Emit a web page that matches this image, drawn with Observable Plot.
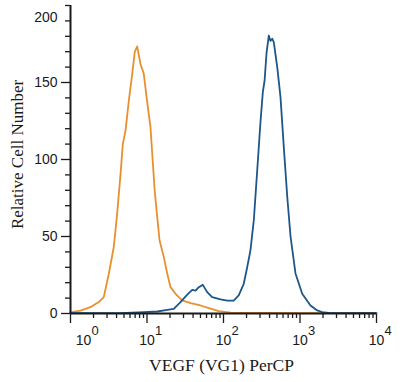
<!DOCTYPE html>
<html><head><meta charset="utf-8">
<script src="https://cdn.jsdelivr.net/npm/d3@7"></script>
<script src="https://cdn.jsdelivr.net/npm/@observablehq/plot@0.6"></script>
<style>body{margin:0;background:#fff}</style>
</head><body><div id="chart"></div>
<script>
// Isotype / control (orange)
const orangeX = [1.0, 1.35, 1.82, 2.34, 2.72, 3.17, 3.68, 4.07, 4.51, 4.83, 5.24, 5.78, 6.41, 6.93, 7.45, 8.22, 9.08, 10.0, 11.1, 11.7, 12.6, 13.6, 14.6, 16.6, 18.4, 20.3, 23.6, 28.8, 37.1, 50.0, 67.6, 86.9, 124, 1000, 10000];
const orangeY = [0.8, 1.9, 4.1, 7.4, 10.6, 25.8, 43.2, 64.7, 90.7, 110, 118.8, 138, 155.6, 170, 173.4, 162, 155.6, 138.3, 121, 104, 80, 62.6, 47.4, 36.6, 25.8, 17.1, 12.8, 8.5, 6.7, 5.2, 3.1, 1.5, 0.6, 0.3, 0.3];
// VEGF stained (blue)
const blueX = [1, 4.5, 9.08, 13.6, 18.4, 22.4, 27.4, 33.6, 39.0, 43.1, 47.5, 53.6, 61.2, 71.1, 91.4, 112, 136, 158, 184, 204, 225, 249, 276, 305, 327, 344, 365, 391, 411, 434, 455, 504, 556, 614, 681, 752, 873, 1069, 1371, 1679, 1950, 2512, 10000];
const blueY = [0.3, 0.3, 0.85, 1.3, 2.4, 3.0, 7.4, 12.2, 15.4, 14.9, 17.1, 18.6, 13.9, 10.6, 9.1, 8.4, 8.4, 11.7, 19.3, 30, 41, 60.6, 93, 125, 144, 151, 169, 180.5, 177, 178.4, 176, 160, 140.5, 108, 76, 50, 26, 12.8, 5.2, 2.0, 0.85, 0.3, 0.3];

const yMajorTicks = [0, 50, 100, 150];
const yTopTick = [200];
const yMinorTicks = [10, 20, 30, 40, 60, 70, 80, 90, 110, 120, 130, 140, 160, 170, 180, 190];
const xTickExponents = [0, 1, 2, 3, 4];
const xMinorMultipliers = [2, 3, 4, 5, 6, 7, 8, 9];
const xAxisTitle = "VEGF (VG1) PerCP";
const yAxisTitle = "Relative Cell Number";

const orange = orangeX.map((x, i) => ({x, y: orangeY[i]}));
const blue = blueX.map((x, i) => ({x, y: blueY[i]}));
const xMajor = xTickExponents.map(e => 10 ** e);
const xMinor = xTickExponents.slice(0, 4).flatMap(e => xMinorMultipliers.map(m => m * 10 ** e));

const ink = "#1a1a1a";
const sans = "Liberation Sans, Arial, sans-serif";
const serif = "Liberation Serif, Times New Roman, serif";

const chart = Plot.plot({
  width: 400,
  height: 382,
  marginLeft: 70,
  marginRight: 24,
  marginTop: 5,
  marginBottom: 69,
  x: {type: "log", domain: [1, 10000], axis: null},
  y: {domain: [0, 200], axis: null},
  style: {fontFamily: sans, fontSize: "14px", color: ink, background: "#fff"},
  marks: [
    Plot.axisY({ticks: yMinorTicks, tickSize: 5, tickFormat: () => "", strokeWidth: 1.3, label: null}),
    Plot.axisY({ticks: yMajorTicks, tickSize: 9, tickPadding: 4, strokeWidth: 1.3, fontSize: 14, fontFamily: sans, label: null}),
    Plot.axisY({ticks: yTopTick, tickSize: 5, tickFormat: () => "", strokeWidth: 1.3, label: null}),
    Plot.text(yTopTick, {y: d => d, frameAnchor: "left", dx: -13, dy: 12, textAnchor: "end", lineAnchor: "middle", text: d => String(d), fontSize: 14, fontFamily: sans}),
    Plot.axisX({ticks: xMajor, tickSize: 10, tickFormat: () => "", strokeWidth: 1.3, label: null}),
    Plot.axisX({ticks: xMinor, tickSize: 5, tickFormat: () => "", strokeWidth: 1.3, label: null}),
    Plot.line(orange, {x: "x", y: "y", stroke: "#E8902C", strokeWidth: 1.8}),
    Plot.line(blue, {x: "x", y: "y", stroke: "#1D5688", strokeWidth: 1.8}),
    Plot.ruleX([1], {stroke: ink, strokeWidth: 2}),
    Plot.ruleY([0], {stroke: ink, strokeWidth: 2}),
    // x tick labels: "10" with superscript exponent
    Plot.text(xMajor.slice(0, 1), {x: d => d, frameAnchor: "bottom", dx: 13, dy: 27, textAnchor: "middle", lineAnchor: "middle", text: () => "10", fontSize: 14, fontFamily: sans}),
    Plot.text(xMajor.slice(1), {x: d => d, frameAnchor: "bottom", dy: 27, textAnchor: "middle", lineAnchor: "middle", text: () => "10", fontSize: 14, fontFamily: sans}),
    Plot.text(xTickExponents.slice(0, 1), {x: e => 10 ** e, frameAnchor: "bottom", dx: 21, dy: 17, textAnchor: "start", lineAnchor: "middle", text: e => String(e), fontSize: 13, fontFamily: sans}),
    Plot.text(xTickExponents.slice(1), {x: e => 10 ** e, frameAnchor: "bottom", dx: 8, dy: 17, textAnchor: "start", lineAnchor: "middle", text: e => String(e), fontSize: 13, fontFamily: sans}),
    // axis titles
    Plot.text([xAxisTitle], {frameAnchor: "bottom", dx: -2, dy: 52, textAnchor: "middle", lineAnchor: "middle", text: d => d, fontSize: 17.5, fontFamily: serif}),
    Plot.text([yAxisTitle], {frameAnchor: "left", dx: -53, dy: -5, rotate: -90, textAnchor: "middle", lineAnchor: "middle", text: d => d, fontSize: 17, fontFamily: serif})
  ]
});
document.getElementById("chart").appendChild(chart);
</script>
</body></html>
